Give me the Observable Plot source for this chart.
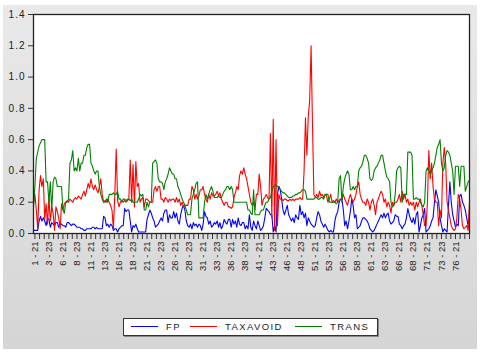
<!DOCTYPE html>
<html><head><meta charset="utf-8">
<script src="https://cdn.jsdelivr.net/npm/d3@7"></script>
<script src="https://cdn.jsdelivr.net/npm/@observablehq/plot@0.6"></script>
<style>
body{margin:0;background:#fff;}
#wrap{position:relative;width:480px;height:352px;overflow:hidden;font-family:"Liberation Sans",Arial,sans-serif;}
#panel{position:absolute;left:3px;top:5px;width:474px;height:344px;background:linear-gradient(#e9e9e9,#d5d5d5);}
#chart{position:absolute;left:0;top:0;}
#legend{position:absolute;left:123px;top:318px;width:255px;height:18px;box-sizing:border-box;border:1px solid #333;background:#fff;box-shadow:1px 1px 0 #888;}
#legend .ln{position:absolute;top:7px;width:27px;height:0;border-top:1.3px solid;}
#legend .tx{position:absolute;top:1px;font-size:9.5px;line-height:14px;letter-spacing:1.4px;color:#222;}
</style></head><body>
<div id="wrap"><div id="panel"></div><div id="chart"></div><div id="legend"></div></div>
<script>
const seriesNames = ["FP", "TAXAVOID", "TRANS"];
const seriesColors = ["#0000ff", "#ff0000", "#008000"];

const fp = [
.02,.02,.02,.02,.08,.11,.08,.10,.08,.05,
.10,.09,.04,.07,.06,.05,.07,.07,.04,.06,
.06,.05,.05,.04,.07,.07,.06,.05,.06,.06,
.05,.04,.04,.04,.03,.03,.02,.02,.03,.03,
.03,.03,.04,.04,.03,.04,.03,.03,.03,.03,
.11,.10,.05,.06,.04,.06,.05,.02,.03,.03,
.01,.03,.04,.05,.05,.16,.14,.15,.15,.08,
.01,.05,.04,.06,.03,.01,.01,.01,.01,.01,
.01,.09,.12,.15,.13,.10,.08,.04,.05,.06,
.08,.10,.08,.13,.15,.15,.07,.12,.10,.10,
.14,.10,.13,.08,.06,.12,.16,.18,.15,.08,
.05,.04,.06,.03,.07,.05,.06,.04,.06,.05,
.02,.06,.14,.11,.10,.06,.08,.04,.05,.07,
.06,.08,.04,.07,.03,.05,.09,.07,.06,.09,
.09,.04,.09,.06,.08,.04,.10,.06,.05,.07,
.07,.03,.05,.03,.12,.04,.02,.08,.05,.03,
.08,.05,.02,.03,.05,.10,.16,.15,.14,.12,
.12,.01,.05,.01,.25,.30,.28,.22,.15,.12,
.15,.18,.12,.10,.08,.10,.07,.12,.10,.09,
.18,.12,.14,.10,.13,.05,.10,.08,.06,.05,
.04,.05,.10,.14,.12,.08,.06,.04,.06,.04,
.02,.01,.02,.01,.01,.08,.12,.14,.20,.22,
.22,.15,.05,.08,.03,.08,.14,.22,.18,.10,
.12,.03,.04,.05,.08,.10,.10,.09,.08,.06,
.03,.02,.01,.02,.04,.06,.08,.10,.12,.10,
.13,.10,.12,.13,.08,.06,.07,.08,.12,.11,
.11,.06,.05,.03,.05,.06,.10,.16,.12,.09,
.07,.10,.06,.12,.14,.01,.05,.10,.12,.16,
.01,.02,.03,.05,.08,.10,.20,.28,.24,.20,
.10,.05,.01,.03,.02,.01,.18,.33,.20,.12,
.08,.04,.06,.05,.24,.25,.20,.18,.15,.10,
.05,.03];

const taxavoid = [
.19,.25,.15,.03,.28,.37,.30,.35,.09,.19,
.06,.23,.08,.17,.13,.02,.17,.14,.10,.03,
.19,.15,.19,.20,.21,.20,.22,.21,.20,.22,
.23,.22,.24,.23,.22,.25,.27,.24,.28,.32,
.29,.35,.30,.28,.31,.28,.26,.30,.35,.25,
.20,.21,.20,.22,.20,.18,.15,.03,.25,.54,
.21,.17,.20,.21,.20,.21,.20,.21,.22,.47,
.20,.44,.17,.46,.30,.32,.20,.22,.23,.17,
.22,.22,.21,.20,.20,.20,.28,.30,.27,.30,
.30,.22,.22,.20,.23,.22,.20,.22,.21,.22,
.22,.20,.23,.20,.22,.18,.20,.17,.18,.18,
.18,.22,.22,.30,.28,.22,.25,.22,.24,.28,
.28,.30,.25,.22,.20,.25,.22,.26,.24,.24,
.25,.27,.24,.26,.22,.20,.18,.20,.20,.17,
.17,.16,.17,.23,.26,.30,.28,.37,.40,.38,
.42,.38,.35,.30,.25,.20,.18,.20,.15,.25,
.25,.38,.30,.18,.22,.23,.25,.23,.22,.64,
.10,.73,.02,.60,.05,.25,.22,.22,.21,.22,
.22,.21,.21,.22,.21,.22,.21,.22,.22,.22,
.23,.22,.22,.40,.74,.50,.75,.85,1.20,.70,
.25,.23,.25,.23,.27,.24,.25,.23,.25,.24,
.20,.22,.25,.20,.21,.20,.22,.20,.21,.22,
.22,.25,.22,.20,.18,.22,.25,.22,.20,.22,
.25,.30,.33,.25,.22,.20,.20,.18,.22,.20,
.15,.20,.22,.18,.12,.20,.22,.25,.27,.25,
.20,.22,.17,.20,.18,.13,.20,.18,.20,.20,
.22,.25,.20,.27,.22,.25,.20,.22,.18,.20,
.18,.20,.15,.20,.17,.20,.22,.18,.12,.05,
.05,.20,.53,.35,.45,.30,.22,.20,.20,.05,
.15,.10,.45,.55,.45,.20,.15,.10,.05,.03,
.02,.03,.10,.25,.22,.15,.05,.03,.04,.05,
.02,.20];

const trans = [
.17,.30,.48,.52,.56,.58,.60,.60,.60,.33,
.33,.20,.33,.15,.33,.36,.35,.30,.30,.30,
.30,.15,.13,.20,.20,.22,.45,.47,.53,.40,
.42,.40,.48,.40,.45,.45,.50,.50,.55,.57,
.57,.45,.43,.40,.38,.40,.40,.30,.25,.22,
.20,.20,.22,.20,.25,.25,.25,.26,.25,.25,
.27,.22,.22,.20,.22,.22,.21,.22,.22,.21,
.22,.20,.20,.20,.20,.22,.25,.24,.25,.15,
.15,.20,.17,.20,.20,.45,.46,.47,.45,.35,
.33,.33,.32,.28,.33,.35,.38,.42,.40,.38,
.38,.35,.35,.30,.28,.25,.22,.20,.18,.15,
.12,.12,.12,.22,.25,.28,.32,.33,.10,.10,
.10,.10,.20,.25,.22,.25,.28,.30,.27,.23,
.23,.23,.24,.23,.23,.25,.27,.28,.30,.30,
.28,.30,.28,.20,.20,.20,.20,.20,.20,.20,
.20,.20,.20,.15,.15,.13,.12,.28,.12,.12,
.12,.12,.14,.15,.15,.18,.20,.20,.22,.23,
.27,.30,.31,.31,.30,.30,.28,.27,.26,.26,
.25,.24,.23,.23,.23,.24,.24,.25,.25,.26,
.26,.27,.28,.28,.27,.22,.22,.22,.22,.22,
.22,.23,.23,.22,.22,.23,.23,.22,.25,.25,
.25,.20,.20,.20,.20,.20,.19,.20,.35,.37,
.20,.30,.35,.38,.40,.38,.28,.28,.30,.28,
.30,.30,.40,.42,.43,.46,.50,.50,.48,.45,
.35,.34,.35,.40,.42,.43,.45,.47,.50,.50,
.45,.40,.36,.35,.33,.20,.17,.18,.25,.40,
.42,.43,.42,.20,.25,.25,.25,.52,.52,.52,
.50,.22,.22,.23,.22,.22,.20,.18,.17,.20,
.40,.42,.40,.38,.40,.42,.45,.50,.55,.57,
.60,.45,.40,.42,.50,.53,.52,.50,.45,.40,
.25,.43,.43,.43,.30,.43,.43,.43,.27,.30,
.33,.34];

const tickLabels = ["1 - 21","3 - 23","6 - 21","8 - 23","11 - 21","13 - 23","16 - 21","18 - 23",
"21 - 21","23 - 23","26 - 21","28 - 23","31 - 21","33 - 23","36 - 21","38 - 23","41 - 21","43 - 23",
"46 - 21","48 - 23","51 - 21","53 - 23","56 - 21","58 - 23","61 - 21","63 - 23","66 - 21","68 - 23",
"71 - 21","73 - 23","76 - 21"];
const tickObs = tickLabels.map((_, k) => 1 + 10 * k);
const minorTicks = d3.range(1, fp.length, 10 / 3);
const yTicks = [0, 0.2, 0.4, 0.6, 0.8, 1.0, 1.2, 1.4];

const data = [fp, taxavoid, trans];

const chart = Plot.plot({
  width: 480, height: 300,
  marginLeft: 33, marginRight: 11, marginTop: 14, marginBottom: 67,
  style: {background: "transparent", fontFamily: "Liberation Sans, Arial, sans-serif", color: "#333", overflow: "visible"},
  x: {type: "linear", domain: [0, fp.length - 1]},
  y: {domain: [0, 1.4]},
  marks: [
    Plot.frame({fill: "white"}),
    Plot.axisY(yTicks, {tickFormat: d => d.toFixed(1), tickSize: 5, tickPadding: 3, fontSize: 10, label: null, stroke: "#333", fill: "#222"}),
    Plot.axisX(minorTicks, {tickSize: 6, tickFormat: () => "", label: null, stroke: "#333"}),
    Plot.axisX(tickObs, {tickSize: 0, tickPadding: 8, tickRotate: -90, fontSize: 9.5, fill: "#222", label: null,
      tickFormat: d => tickLabels[tickObs.indexOf(d)]}),
    ...data.map((arr, k) => Plot.lineY(arr, {x: (d, i) => i, y: d => d, stroke: seriesColors[k], strokeWidth: 1.1})),
    Plot.frame({stroke: "#222", strokeWidth: 1.3})
  ]
});
d3.select(chart).selectAll('g[aria-label="y-axis tick label"]').style("letter-spacing", "1px");
document.getElementById("chart").appendChild(chart);

const legend = document.getElementById("legend");
const legendLeft = [7, 66, 171];
seriesNames.forEach((name, k) => {
  const ln = document.createElement("div");
  ln.className = "ln";
  ln.style.left = legendLeft[k] + "px";
  ln.style.borderTopColor = seriesColors[k];
  legend.appendChild(ln);
  const tx = document.createElement("span");
  tx.className = "tx";
  tx.style.left = (legendLeft[k] + 35) + "px";
  tx.textContent = name;
  legend.appendChild(tx);
});
</script>
</body></html>
